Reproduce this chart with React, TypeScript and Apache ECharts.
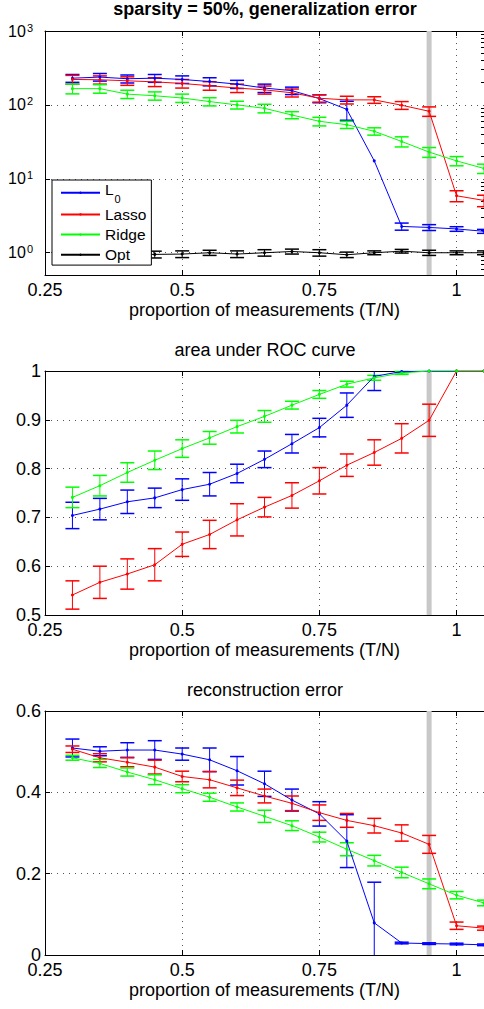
import React, { useEffect, useRef } from "react";
import * as echarts from "echarts";

const FONT = "'Liberation Sans', Arial, Helvetica, sans-serif";

// ---------- data ----------
const proportions = [0.3, 0.35, 0.4, 0.45, 0.5, 0.55, 0.6, 0.65, 0.7, 0.75, 0.8, 0.85, 0.9, 0.95, 1.0, 1.05];
const xTickLabels = [0.25, 0.5, 0.75, 1];
const thresholdX = 0.95;

const methods = ["L0", "Lasso", "Ridge", "Opt"];
const methodColors = ["#0000ff", "#ff0000", "#00ff00", "#000000"];

// generalization error (log scale)
const genL0 = [230, 238, 226, 230, 221, 207, 191, 169, 156, 122, 87, 17.5, 2.27, 2.2, 2.1, 1.95];
const genL0Err = [28, 28, 28, 28, 26, 26, 24, 22, 18, 15, 25, 0, 0.25, 0.2, 0.15, 0.12];
const genLasso = [221, 219, 212, 205, 195, 182, 169, 160, 146, 123, 117, 117, 99, 82, 5.9, 5.1];
const genLassoErr = [30, 28, 28, 28, 26, 24, 22, 20, 18, 14, 14, 12, 12, 12, 1.0, 0.9];
const genRidge = [166, 166, 140, 133, 124, 111, 100, 90, 73, 60, 54, 44, 32, 23, 17.5, 13.8];
const genRidgeErr = [25, 22, 18, 17, 16, 14, 12, 12, 8, 8, 6, 5, 5, 3.5, 2.5, 2];
const genOpt = [0.95, 0.95, 0.95, 0.95, 0.96, 1.0, 0.96, 1.0, 1.04, 1.0, 0.94, 1.0, 1.05, 1.0, 1.0, 1.0];
const genOptErr = [0.1, 0.1, 0.1, 0.1, 0.1, 0.08, 0.1, 0.1, 0.08, 0.1, 0.08, 0.06, 0.06, 0.08, 0.06, 0.06];

// area under ROC curve
const aucL0 = [0.704, 0.717, 0.732, 0.74, 0.757, 0.768, 0.79, 0.819, 0.851, 0.884, 0.93, 0.989, 0.999, 1, 1, 1];
const aucL0Err = [0.027, 0.022, 0.024, 0.02, 0.022, 0.024, 0.019, 0.017, 0.019, 0.019, 0.025, 0.029, 0.002, 0, 0, 0];
const aucLasso = [0.541, 0.567, 0.584, 0.603, 0.645, 0.665, 0.695, 0.721, 0.745, 0.775, 0.807, 0.833, 0.862, 0.899, 1, 1];
const aucLassoErr = [0.029, 0.033, 0.031, 0.033, 0.025, 0.029, 0.033, 0.02, 0.026, 0.027, 0.023, 0.026, 0.03, 0.033, 0, 0];
const aucRidge = [0.741, 0.765, 0.792, 0.817, 0.841, 0.863, 0.886, 0.907, 0.93, 0.952, 0.973, 0.986, 0.996, 1, 1, 1];
const aucRidgeErr = [0.021, 0.021, 0.02, 0.019, 0.018, 0.013, 0.013, 0.012, 0.008, 0.008, 0.006, 0.005, 0.003, 0, 0, 0];

// reconstruction error
const recL0 = [0.509, 0.501, 0.504, 0.504, 0.494, 0.48, 0.453, 0.421, 0.381, 0.347, 0.28, 0.079, 0.0295, 0.028, 0.027, 0.025];
const recL0Err = [0.022, 0.011, 0.018, 0.023, 0.015, 0.029, 0.035, 0.031, 0.027, 0.03, 0.065, 0.1, 0.002, 0.002, 0.002, 0.002];
const recLasso = [0.506, 0.485, 0.474, 0.462, 0.439, 0.431, 0.411, 0.391, 0.373, 0.35, 0.331, 0.318, 0.3, 0.272, 0.072, 0.066];
const recLassoErr = [0.008, 0.01, 0.011, 0.017, 0.013, 0.02, 0.019, 0.017, 0.018, 0.019, 0.017, 0.018, 0.02, 0.022, 0.009, 0.005];
const recRidge = [0.485, 0.471, 0.45, 0.431, 0.409, 0.388, 0.364, 0.341, 0.318, 0.29, 0.26, 0.232, 0.203, 0.175, 0.147, 0.128];
const recRidgeErr = [0.006, 0.01, 0.01, 0.012, 0.01, 0.01, 0.01, 0.015, 0.012, 0.012, 0.016, 0.013, 0.013, 0.012, 0.009, 0.007];

const panelTitles = ["sparsity = 50%, generalization error", "area under ROC curve", "reconstruction error"];
const xAxisTitle = "proportion of measurements (T/N)";

// ---------- helpers ----------
const panels = [
  { yMin: 0.5, yMax: 1000, log: true, series: [[genL0, genL0Err], [genLasso, genLassoErr], [genRidge, genRidgeErr], [genOpt, genOptErr]] },
  { yMin: 0.5, yMax: 1, interval: 0.1, log: false, series: [[aucL0, aucL0Err], [aucLasso, aucLassoErr], [aucRidge, aucRidgeErr]] },
  { yMin: 0, yMax: 0.6, interval: 0.2, log: false, series: [[recL0, recL0Err], [recLasso, recLassoErr], [recRidge, recRidgeErr]] },
];

const gridTops = [31, 371, 711];
const gridH = 244;
const gridLeft = 45;
const gridW = 440;
const titleTops = [0, 341, 681];

const dotted = { color: "#555", width: 1, type: [1, 5] as any };

function makeErrRender(color: string, yMin: number, yMax: number) {
  return (params: any, api: any) => {
    const x = api.value(0);
    const y = api.value(1);
    const e = api.value(2);
    if (!e) return null;
    const loV = y - e;
    const hiV = y + e;
    const lo = Math.max(loV, yMin);
    const hi = Math.min(hiV, yMax);
    const pLo = api.coord([x, lo]);
    const pHi = api.coord([x, hi]);
    const hw = 7;
    const children: any[] = [
      { type: "line", shape: { x1: pLo[0], y1: pLo[1], x2: pHi[0], y2: pHi[1] }, style: { stroke: color, lineWidth: 1 } },
    ];
    if (loV >= yMin) children.push({ type: "line", shape: { x1: pLo[0] - hw, y1: pLo[1], x2: pLo[0] + hw, y2: pLo[1] }, style: { stroke: color, lineWidth: 1.5 } });
    if (hiV <= yMax) children.push({ type: "line", shape: { x1: pHi[0] - hw, y1: pHi[1], x2: pHi[0] + hw, y2: pHi[1] }, style: { stroke: color, lineWidth: 1.5 } });
    return { type: "group", children };
  };
}

function minorLogTicks(min: number, max: number) {
  const out: number[] = [];
  for (let p = -1; p <= 3; p++) {
    for (let k = 2; k <= 9; k++) {
      const v = k * Math.pow(10, p);
      if (v > min && v < max) out.push(Math.log10(v));
    }
  }
  return out;
}

function buildOption() {
  const xAxes: any[] = [];
  const yAxes: any[] = [];
  const grids: any[] = [];
  const series: any[] = [];
  const titles: any[] = [];

  panels.forEach((pn, pi) => {
    grids.push({ left: gridLeft, top: gridTops[pi], width: gridW, height: gridH, containLabel: false });
    titles.push({
      text: panelTitles[pi],
      left: 265,
      textAlign: "center",
      top: titleTops[pi],
      padding: 0,
      textStyle: { fontFamily: FONT, fontSize: 18, fontWeight: pi === 0 ? "bold" : "normal", color: "#000" },
    });
    xAxes.push({
      type: "value",
      gridIndex: pi,
      min: 0.25,
      max: 1.05,
      interval: 0.25,
      position: "bottom",
      name: xAxisTitle,
      nameLocation: "middle",
      nameGap: 26,
      nameTextStyle: { fontFamily: FONT, fontSize: 18, color: "#000" },
      axisLine: { show: true, onZero: false, lineStyle: { color: "#000", width: 1 } },
      axisTick: { show: true, inside: true, length: 5, lineStyle: { color: "#000" } },
      axisLabel: {
        show: true,
        margin: 6,
        showMaxLabel: false,
        fontFamily: FONT,
        fontSize: 18,
        color: "#000",
        formatter: (v: number) => (xTickLabels.some((t) => Math.abs(t - v) < 1e-9) ? String(v) : ""),
      },
      splitLine: { show: true, lineStyle: dotted },
    });
    xAxes.push({
      type: "value",
      gridIndex: pi,
      min: 0.25,
      max: 1.05,
      interval: 0.25,
      position: "top",
      axisLine: { show: true, onZero: false, lineStyle: { color: "#000", width: 1 } },
      axisTick: { show: true, inside: true, length: 5, lineStyle: { color: "#000" } },
      axisLabel: { show: false },
      splitLine: { show: false },
    });

    if (pn.log) {
      yAxes.push({
        type: "log",
        logBase: 10,
        gridIndex: pi,
        min: pn.yMin,
        max: pn.yMax,
        axisLine: { show: true, onZero: false, lineStyle: { color: "#000", width: 1 } },
        axisTick: { show: true, inside: true, length: 5, lineStyle: { color: "#000" } },
        axisLabel: {
          margin: 12,
          color: "#000",
          fontFamily: FONT,
          formatter: (v: number) => {
            const l = Math.log10(v);
            const e = Math.round(l);
            if (Math.abs(l - e) > 1e-6) return "";
            return `{b|10}{s|${e}}`;
          },
          rich: {
            b: { fontFamily: FONT, fontSize: 16, color: "#000", lineHeight: 18 },
            s: { fontFamily: FONT, fontSize: 11, color: "#000", verticalAlign: "top", lineHeight: 11, padding: [0, 0, 0, 1] },
          },
        },
        splitLine: { show: true, lineStyle: dotted },
      });
    } else {
      yAxes.push({
        type: "value",
        gridIndex: pi,
        min: pn.yMin,
        max: pn.yMax,
        interval: pn.interval,
        axisLine: { show: true, onZero: false, lineStyle: { color: "#000", width: 1 } },
        axisTick: { show: true, inside: true, length: 5, lineStyle: { color: "#000" } },
        axisLabel: {
          margin: 4,
          color: "#000",
          fontFamily: FONT,
          fontSize: 18,
          formatter: (v: number) => String(parseFloat(v.toFixed(2))),
        },
        splitLine: { show: true, lineStyle: dotted },
      });
    }
  });

  // minor ticks overlay for the log axis
  yAxes.push({
    type: "value",
    gridIndex: 0,
    min: Math.log10(panels[0].yMin),
    max: Math.log10(panels[0].yMax),
    axisLine: { show: false },
    axisLabel: { show: false },
    splitLine: { show: false },
    axisTick: { show: true, inside: true, length: 3, customValues: minorLogTicks(panels[0].yMin, panels[0].yMax), lineStyle: { color: "#000" } },
  });

  panels.forEach((pn, pi) => {
    // grey threshold band
    series.push({
      name: "threshold",
      type: "line",
      xAxisIndex: pi * 2,
      yAxisIndex: pi,
      data: [
        [thresholdX, pn.yMin],
        [thresholdX, pn.yMax],
      ],
      symbol: "none",
      silent: true,
      z: 1,
      lineStyle: { color: "#c8c8c8", width: 5, cap: "butt" },
    });
    pn.series.forEach(([vals, errs], mi) => {
      const color = methodColors[mi];
      series.push({
        name: methods[mi] + " error",
        type: "custom",
        xAxisIndex: pi * 2,
        yAxisIndex: pi,
        renderItem: makeErrRender(color, pn.yMin, pn.yMax),
        encode: { x: 0, y: 1 },
        data: proportions.map((x, i) => [x, vals[i], errs[i]]),
        z: 3,
        silent: true,
      });
      series.push({
        name: methods[mi],
        type: "line",
        xAxisIndex: pi * 2,
        yAxisIndex: pi,
        data: proportions.map((x, i) => [x, vals[i]]),
        symbol: "circle",
        symbolSize: 3,
        showSymbol: true,
        itemStyle: { color },
        lineStyle: { color, width: 1 },
        z: 3,
        silent: true,
      });
    });
  });

  return {
    animation: false,
    backgroundColor: "#fff",
    title: titles,
    grid: grids,
    xAxis: xAxes,
    yAxis: yAxes,
    legend: {
      data: methods,
      orient: "vertical",
      left: 52,
      top: 180,
      padding: [1.3, 5, 0.2, 8],
      itemWidth: 39,
      itemHeight: 3,
      itemGap: 0,
      backgroundColor: "#fff",
      borderColor: "#000",
      borderWidth: 1,
      selectedMode: false,
      formatter: (n: string) => (n === "L0" ? "{m|L}{sub|0}" : n),
      textStyle: {
        fontFamily: FONT,
        fontSize: 15.5,
        color: "#000",
        lineHeight: 20.2,
        rich: {
          m: { fontFamily: FONT, fontSize: 15.5, color: "#000", padding: [0, 0, 6, 0], lineHeight: 20 },
          sub: { fontFamily: FONT, fontSize: 11, color: "#000", padding: [12, 0, 0, 1], lineHeight: 11 },
        },
      },
    },
    series,
  };
}

export default function App() {
  const ref = useRef<HTMLDivElement>(null);
  useEffect(() => {
    if (!ref.current) return;
    const chart = echarts.init(ref.current, undefined, { renderer: "svg" });
    chart.setOption(buildOption() as any);
    return () => chart.dispose();
  }, []);
  return (
    <div
      ref={ref}
      style={{ position: "absolute", left: 0, top: 0, width: 484, height: 1009, background: "#fff" }}
    />
  );
}
